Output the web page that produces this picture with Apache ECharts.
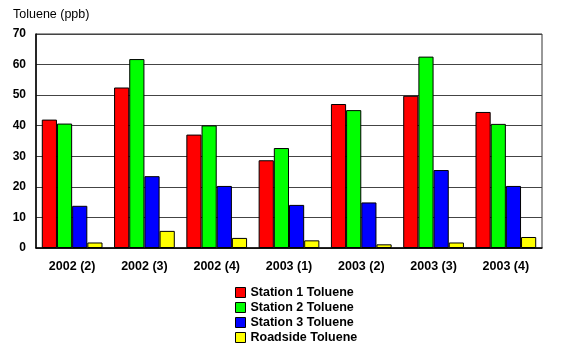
<!DOCTYPE html>
<html>
<head>
<meta charset="utf-8">
<script src="https://cdn.jsdelivr.net/npm/echarts@6/dist/echarts.min.js"></script>
<style>
  html, body { margin: 0; padding: 0; background: #fff; }
  #chart { width: 575px; height: 353px; }
</style>
</head>
<body>
<div id="chart"></div>
<script>
// quarters on the x axis
const categories = ['2002 (2)', '2002 (3)', '2002 (4)', '2003 (1)', '2003 (2)', '2003 (3)', '2003 (4)'];
const station1 = [42.0, 52.5, 37.1, 28.7, 47.1, 49.8, 44.5];
const station2 = [40.7, 61.8, 40.1, 32.7, 45.1, 62.6, 40.6];
const station3 = [13.8, 23.5, 20.3, 14.1, 14.9, 25.5, 20.3];
const roadside = [1.8, 5.6, 3.3, 2.5, 1.2, 1.8, 3.6];
const seriesNames = ['Station 1 Toluene', 'Station 2 Toluene', 'Station 3 Toluene', 'Roadside Toluene'];

const chart = echarts.init(document.getElementById('chart'), null, { renderer: 'canvas' });
const font = 'Arial, "Liberation Sans", sans-serif';

function bar(name, data, color) {
  return {
    name: name,
    type: 'bar',
    data: data,
    barGap: '0%',
    barCategoryGap: '16%',
    itemStyle: { color: color, borderColor: '#000', borderWidth: 1 }
  };
}

chart.setOption({
  animation: false,
  color: ['#ff0000', '#00ff00', '#0000ff', '#ffff00'],
  textStyle: { fontFamily: font },
  title: {
    text: 'Toluene (ppb)',
    left: 8,
    top: 3,
    textStyle: { fontSize: 12.5, fontWeight: 'normal', color: '#000', fontFamily: font }
  },
  legend: {
    orient: 'vertical',
    left: 230,
    top: 281,
    itemWidth: 10,
    itemHeight: 10,
    itemGap: 2,
    icon: 'rect',
    data: seriesNames,
    textStyle: { fontSize: 12.5, fontWeight: 'bold', color: '#000', fontFamily: font },
    itemStyle: { borderColor: '#000', borderWidth: 1 }
  },
  grid: {
    left: 36,
    right: 33,
    top: 34,
    bottom: 105,
    show: true,
    borderColor: '#333',
    borderWidth: 1
  },
  xAxis: {
    type: 'category',
    data: categories,
    axisTick: { show: false },
    axisLine: { lineStyle: { color: '#000', width: 1.5 } },
    axisLabel: { fontSize: 12.5, fontWeight: 'bold', color: '#000', margin: 12, fontFamily: font }
  },
  yAxis: {
    type: 'value',
    min: 0,
    max: 70,
    interval: 10,
    axisLine: { show: true, lineStyle: { color: '#000', width: 1.5 } },
    axisTick: { show: false },
    axisLabel: { fontSize: 12, fontWeight: 'bold', color: '#000', margin: 10, fontFamily: font },
    splitLine: { lineStyle: { color: '#444', width: 1 } }
  },
  series: [
    bar(seriesNames[0], station1, '#ff0000'),
    bar(seriesNames[1], station2, '#00ff00'),
    bar(seriesNames[2], station3, '#0000ff'),
    bar(seriesNames[3], roadside, '#ffff00')
  ]
});
</script>
</body>
</html>
